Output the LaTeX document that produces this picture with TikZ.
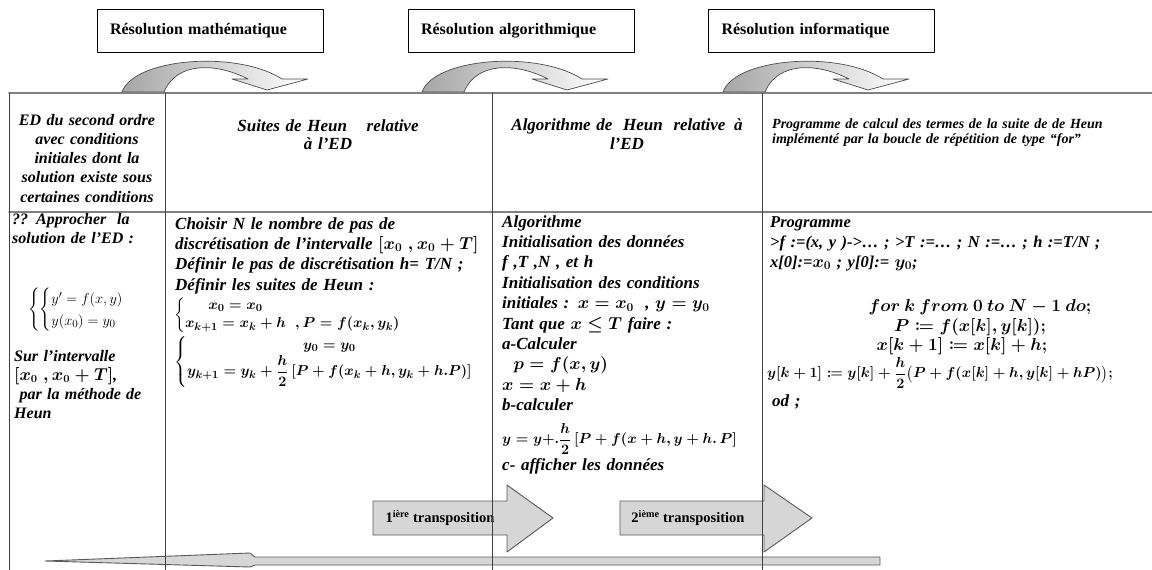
\documentclass[tikz,border=0pt]{standalone}
\usepackage{amsmath,mathtools}
\usepackage{fontspec}
\setmainfont{Liberation Serif}
\usetikzlibrary{arrows}

\tikzset{
  resbox/.style={draw, line width=0.8pt, minimum width=226pt, minimum height=43pt,
    text width=200pt, inner xsep=13pt, align=left, font=\bfseries\fontsize{16}{18}\selectfont},
  cell/.style={inner sep=0pt, text width=#1, align=left,
    font=\bfseries\itshape\fontsize{17}{20.4}\selectfont\boldmath},
  cellc/.style={cell=#1, align=center},
  formula/.style={inner sep=0pt, font=\boldmath\fontsize{15}{18}\selectfont},
  tabline/.style={line width=1.6pt, black!50},
  colline/.style={line width=0.9pt, black!75},
  bendarrow/.style={draw=black!70, line width=0.7pt, left color=black!35, right color=white},
  transarrow/.style={draw=black!65, line width=0.9pt, fill=black!16},
  transtxt/.style={inner sep=0pt, font=\bfseries\fontsize{14.5}{16}\selectfont}
}

\begin{document}
\begin{tikzpicture}[line cap=round,line join=round,x=1pt,y=-1pt]
  \useasboundingbox[fill=white] (0,0) rectangle (1152,570);

  % titres
  \node[resbox] (resmath) at (210,30.5) {Résolution mathématique};
  \node[resbox] (resalgo) at (521,31) {Résolution algorithmique};
  \node[resbox] (resinfo) at (821.5,30.5) {Résolution informatique};

  % fleches courbes
  \foreach \bx in {122,422,723}{
    \path[bendarrow] (\bx,92) .. controls (\bx+12,58) and (\bx+115,50) .. (\bx+160,79)
      -- (\bx+186,79) -- (\bx+145,90) -- (\bx+110,79) -- (\bx+126,79)
      .. controls (\bx+95,63) and (\bx+55,61) .. (\bx+42,92) -- cycle;
  }

  % transpositions
  \path[transarrow] (373,501) -- (507,501) -- (507,485) -- (553,518) -- (507,552) -- (507,535) -- (373,535) -- cycle;
  \node[transtxt] (trans1) at (440,518) {1\textsuperscript{ière} transposition};
  \path[transarrow] (620,501) -- (764,501) -- (764,485) -- (812,518) -- (764,552) -- (764,535) -- (620,535) -- cycle;
  \node[transtxt] (trans2) at (688,518) {2\textsuperscript{ième} transposition};
  \path[transarrow] (45,561) -- (250,553) -- (255,557) -- (880,557) -- (880,565) -- (255,565) -- (250,567) -- cycle;

  % tableau
  \draw[tabline] (9,93) -- (1152,93);
  \draw[tabline] (9,212) -- (1152,212);
  \foreach \cx in {9,165,492,762}
    \draw[colline] (\cx,93) -- (\cx,570);

  % en-tetes
  \node[cellc=150pt, font=\bfseries\itshape\fontsize{16}{19.3}\selectfont, anchor=base] (hdED) at (87,125)
    {ED du second ordre\\avec conditions\\initiales dont la\\solution existe sous\\certaines conditions};
  \node[cellc=300pt, font=\bfseries\itshape\fontsize{17}{18.5}\selectfont, anchor=base] (hdsuite) at (328,131)
    {Suites de Heun\hspace{14pt} relative\\à l'ED};
  \node[cellc=260pt, font=\bfseries\itshape\fontsize{17}{19}\selectfont, anchor=base] (hdalgo) at (627,130)
    {Algorithme de\hspace{5pt} Heun\hspace{5pt} relative\hspace{3pt} à\\l'ED};
  \node[cell=380pt, font=\bfseries\itshape\fontsize{14}{15.5}\selectfont, anchor=base west] (hdprog) at (772,128)
    {Programme de calcul des termes de la suite de de Heun\\implémenté par la boucle de répétition de type “for”};

  % colonne 1
  \node[cell=150pt, font=\bfseries\itshape\fontsize{16}{19.3}\selectfont\boldmath, anchor=base west] (edq) at (12,224)
    {?? Approcher\ \ la\\solution de l'ED :};
  \node[inner sep=0pt, font=\fontsize{15}{18}\selectfont] (edsys) at (84,310)
    {$\left\{\begin{cases} y' = f(x,y)\\ y(x_0) = y_0\end{cases}\right.$};
  \node[cell=150pt, font=\bfseries\itshape\fontsize{16}{19.3}\selectfont\boldmath, anchor=base west] (edint) at (14,361)
    {Sur l'intervalle\\$[x_0\ ,x_0 + T]$,\\\ par la méthode de\\Heun};

  % colonne 2
  \node[cell=320pt, anchor=base west] (suitetxt) at (175,229)
    {Choisir N le nombre de pas de\\discrétisation de l'intervalle $[x_0\ ,x_0 + T]$\\Définir le pas de discrétisation h= T/N ;\\Définir les suites de Heun :};
  \node[formula, anchor=west] (suitex) at (174,315)
    {$\left\{\begin{array}{@{}c@{}l} x_0 = x_0 & \\ x_{k+1} = x_k + h & \;\;,P = f(x_k,y_k)\end{array}\right.$};
  \node[formula, anchor=west] (suitey) at (174,362)
    {$\left\{\begin{array}{@{}c@{}} y_0 = y_0 \\ y_{k+1} = y_k + \dfrac{h}{2}\,[P + f(x_k + h, y_k + h.P)]\end{array}\right.$};

  % colonne 3
  \node[cell=260pt, anchor=base west] (algotxt) at (502,227)
    {Algorithme\\Initialisation des données\\f ,T ,N , et h\\Initialisation des conditions\\initiales : $x = x_0$\ \ , $y = y_0$\\Tant que $x \le T$ faire :\\a-Calculer\\\ \ $p = f(x,y)$\\$x = x + h$\\b-calculer};
  \node[formula, anchor=west] (algoy) at (502,439)
    {$y = y{+}.\dfrac{h}{2}\,[P + f(x + h, y + h.\,P]$};
  \node[cell=260pt, anchor=base west] (algoaff) at (502,470) {c- afficher les données};

  % colonne 4
  \node[cell=380pt, font=\bfseries\itshape\fontsize{16.5}{20}\selectfont\boldmath, anchor=base west] (progtxt) at (770,227)
    {Programme\\>f :=(x, y )->… ; >T :=… ; N :=… ; h :=T/N ;\\x[0]:=$x_0$ ; y[0]:= $y_0$;};
  \node[formula, font=\boldmath\fontsize{17}{20}\selectfont, anchor=base] (progfor) at (980,311)
    {$for\ k\ from\ 0\ to\ N-1\ do;$};
  \node[formula, font=\boldmath\fontsize{17}{20}\selectfont, anchor=base] (progP) at (970,331)
    {$P \coloneqq f(x[k],y[k]);$};
  \node[formula, font=\boldmath\fontsize{17}{20}\selectfont, anchor=base] (progx) at (962,350)
    {$x[k+1] \coloneqq x[k] + h;$};
  \node[formula, font=\boldmath\fontsize{15.2}{18}\selectfont, anchor=west] (progy) at (767,373)
    {$y[k+1] \coloneqq y[k] + \dfrac{h}{2}\bigl(P + f(x[k] + h, y[k] + hP)\bigr);$};
  \node[cell=100pt, anchor=base west] (progod) at (772,406) {od ;};
\end{tikzpicture}
\end{document}
